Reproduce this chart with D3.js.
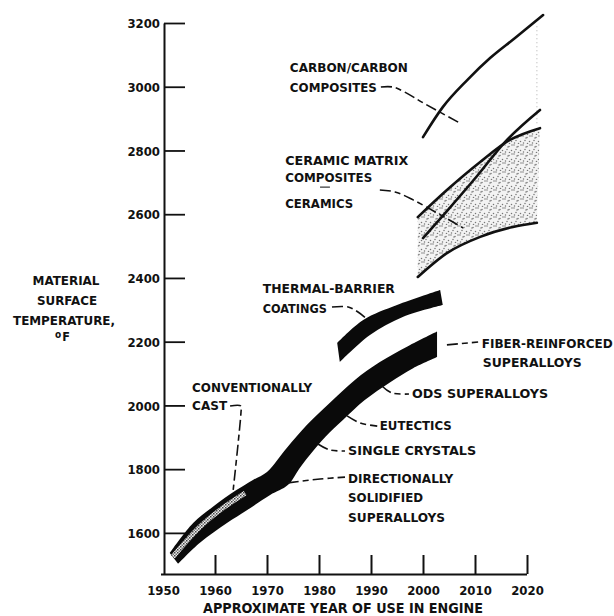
<!DOCTYPE html>
<html><head><meta charset="utf-8">
<script src="https://cdn.jsdelivr.net/npm/d3@7"></script>
<style>
html,body{margin:0;padding:0;background:#fff;}
text{font-family:"DejaVu Sans Condensed","DejaVu Sans",sans-serif;fill:#111;}
</style></head>
<body><svg id="c" width="614" height="616"></svg>
<script>
// ---------- DATA ----------
const xTicks = [1950, 1960, 1970, 1980, 1990, 2000, 2010, 2020];
const yTicks = [1600, 1800, 2000, 2200, 2400, 2600, 2800, 3000, 3200];

// superalloy band (conventionally cast -> fiber-reinforced)  [year, °F]
const superUpper = [[1951.3,1537],[1955.8,1631],[1959.6,1682],[1964.2,1735],[1967.3,1766],[1970.0,1791],
  [1973.8,1866],[1977.7,1939],[1982.1,2008],[1986.9,2080],[1991.7,2136],[1997.1,2186],[2002.7,2232]];
const superLower = [[1952.9,1503],[1957.1,1569],[1962.3,1631],[1966.2,1672],[1970.6,1719],[1974.0,1750],
  [1976.3,1804],[1978.7,1854],[1981.2,1901],[1984.6,1954],[1988.8,2017],[1993.7,2073],[1998.1,2117],[2002.7,2152]];
// conventionally cast (light strip inside band)
const castStrip = [[1951.9,1525],[1957.1,1619],[1961.5,1678],[1965.8,1725]];
// thermal-barrier coatings band
const tbcUpper = [[1983.5,2196],[1988.5,2268],[1995.0,2315],[2003.3,2362]];
const tbcLower = [[1984.0,2136],[1989.8,2221],[1996.2,2278],[2003.8,2315]];
// carbon/carbon composites
const carbonLine = [[2000.0,2842],[2003.8,2936],[2008.5,3021],[2012.9,3090],[2017.7,3153],[2023.1,3225]];
// ceramic matrix composites / ceramics
const ceramicA = [[1999.0,2591],[2004.6,2676],[2011.0,2764],[2016.7,2833],[2022.5,2870]];
const ceramicB = [[2000.0,2525],[2004.6,2610],[2010.4,2720],[2015.8,2827],[2022.5,2927]];
const ceramicLow = [[1999.0,2403],[2004.6,2478],[2011.0,2529],[2017.3,2560],[2021.9,2573]];

// labels: [text, year, °F (baseline), width px]
const labels = [
  ["CARBON/CARBON",1974.4,3046,118],["COMPOSITES",1974.4,2984,87],
  ["CERAMIC MATRIX",1973.5,2754,123],["COMPOSITES",1973.5,2701,87],["CERAMICS",1973.5,2620,68],
  ["THERMAL-BARRIER",1969.2,2353,132],["COATINGS",1969.2,2290,64],
  ["FIBER-REINFORCED",2011.3,2180,131],["SUPERALLOYS",2011.5,2121,99],
  ["CONVENTIONALLY",1955.6,2042,120],["CAST",1955.6,1986,35],
  ["ODS SUPERALLOYS",1997.9,2023,136],["EUTECTICS",1991.7,1923,72],
  ["SINGLE CRYSTALS",1985.6,1844,128],["DIRECTIONALLY",1985.6,1757,105],
  ["SOLIDIFIED",1985.6,1697,75],["SUPERALLOYS",1985.6,1634,97]
];
// leader lines
const leaders = [
  [[1991.9,2999],[1994.2,2999],[1996.5,2983],[2000.4,2946],[2007.1,2886]],
  [[1991.7,2676],[1994.6,2670],[1998.1,2645],[2007.7,2557]],
  [[1982.5,2309],[1985.6,2309],[1987.5,2293],[1989.0,2274]],
  [[2004.6,2190],[2010.6,2199]],
  [[1992.1,2061],[1994.0,2039],[1997.3,2036]],
  [[1985.4,1967],[1987.9,1945],[1991.2,1935]],
  [[1979.8,1879],[1982.1,1860],[1985.0,1857]],
  [[1974.0,1757],[1980.2,1769],[1985.0,1775]],
  [[1962.9,1998],[1965.0,1998],[1965.0,1979],[1963.5,1735]]
];
const smallDash = [[1980.2,2685],[1982.1,2685]];

// ---------- CHART ----------
const svg = d3.select("#c");
const x = d3.scaleLinear().domain([1950, 2020]).range([163, 527]);
const y = d3.scaleLinear().domain([1471, 3200]).range([574, 23]);

const defs = svg.append("defs");
const stip = defs.append("pattern").attr("id","stip").attr("width",9).attr("height",9).attr("patternUnits","userSpaceOnUse");
stip.append("rect").attr("width",9).attr("height",9).attr("fill","#f3f3f3");
[[1,1],[5,2.5],[3,5.5],[7.5,6.5],[8,1],[1.5,8],[5.5,8.5],[4,3]].forEach(p=>
  stip.append("circle").attr("cx",p[0]).attr("cy",p[1]).attr("r",0.75).attr("fill","#777"));
const chk = defs.append("pattern").attr("id","chk").attr("width",3).attr("height",3).attr("patternUnits","userSpaceOnUse");
chk.append("rect").attr("width",3).attr("height",3).attr("fill","#eee");
chk.append("rect").attr("width",1.5).attr("height",1.5).attr("fill","#444");
chk.append("rect").attr("x",1.5).attr("y",1.5).attr("width",1.5).attr("height",1.5).attr("fill","#777");

const line = d3.line().x(d=>x(d[0])).y(d=>y(d[1])).curve(d3.curveCatmullRom.alpha(0.5));
const smooth = d3.line().x(d=>x(d[0])).y(d=>y(d[1])).curve(d3.curveMonotoneX);
function band(up, lo){
  return line(up) + line(lo.slice().reverse()).replace(/^M/,"L") + "Z";
}

// ceramics stipple region
svg.append("path").attr("d", band(ceramicLow, ceramicA)).attr("fill","url(#stip)");
// faint dotted boundary on right above
svg.append("line").attr("x1",x(2021.9)).attr("x2",x(2021.9)).attr("y1",y(3190)).attr("y2",y(2880))
  .attr("stroke","#bbb").attr("stroke-width",1.2).attr("stroke-dasharray","1,3");

// axes
const xAxis = d3.axisBottom(x).tickValues(xTicks).tickFormat(d3.format("d")).tickSizeInner(-19).tickSizeOuter(0).tickPadding(12);
const gx = svg.append("g").attr("transform","translate(0,574)").call(xAxis);
gx.select(".domain").attr("d",`M161,0.5H${x(2020)}`).attr("stroke","#111").attr("stroke-width",2);
gx.selectAll(".tick line").attr("stroke","#111").attr("stroke-width",2).filter(d=>d===1950).remove();
gx.selectAll(".tick text").attr("font-size",13).attr("font-weight","bold").attr("fill","#111");

const yAxis = d3.axisLeft(y).tickValues(yTicks).tickFormat(d3.format("d")).tickSizeInner(-21).tickSizeOuter(0).tickPadding(4);
const gy = svg.append("g").attr("transform","translate(164,0)").call(yAxis);
gy.select(".domain").attr("stroke","#111").attr("stroke-width",2);
gy.selectAll(".tick line").attr("stroke","#111").attr("stroke-width",1.8);
gy.selectAll(".tick text").attr("font-size",13).attr("font-weight","bold").attr("fill","#111").attr("dy","0.36em");

// bands
svg.append("path").attr("d", band(superUpper, superLower)).attr("fill","#0a0a0a");
svg.append("path").attr("d", line(castStrip)).attr("fill","none").attr("stroke","url(#chk)").attr("stroke-width",5);
svg.append("path").attr("d", band(tbcUpper, tbcLower)).attr("fill","#0a0a0a");

// lines
[carbonLine, ceramicA, ceramicB, ceramicLow].forEach(l=>
  svg.append("path").attr("d", smooth(l)).attr("fill","none").attr("stroke","#111").attr("stroke-width",2.6).attr("stroke-linecap","round"));

// leaders
const lline = d3.line().x(d=>x(d[0])).y(d=>y(d[1])).curve(d3.curveCatmullRom);
leaders.forEach(l=>
  svg.append("path").attr("d", lline(l)).attr("fill","none").attr("stroke","#111").attr("stroke-width",1.6)
    .attr("stroke-dasharray","11,4,6,4"));
svg.append("path").attr("d", d3.line().x(d=>x(d[0])).y(d=>y(d[1]))(smallDash)).attr("stroke","#333").attr("stroke-width",1.2);

// labels
svg.selectAll("text.lab").data(labels).join("text").attr("class","lab")
  .attr("x",d=>x(d[1])).attr("y",d=>y(d[2])).attr("font-size",13).attr("font-weight","bold")
  .attr("textLength",d=>d[3]).attr("lengthAdjust","spacingAndGlyphs").text(d=>d[0]);

// axis titles
svg.append("text").attr("x",343).attr("y",613).attr("text-anchor","middle").attr("font-size",13.5)
  .attr("font-weight","bold").attr("textLength",280).attr("lengthAdjust","spacingAndGlyphs").text("APPROXIMATE YEAR OF USE IN ENGINE");
const yt = [["MATERIAL",66,285,67],["SURFACE",67,305,60],["TEMPERATURE,",64,325,102]];
yt.forEach(t=>svg.append("text").attr("x",t[1]).attr("y",t[2]).attr("text-anchor","middle").attr("font-size",12.5)
  .attr("font-weight","bold").attr("textLength",t[3]).attr("lengthAdjust","spacingAndGlyphs").text(t[0]));
const degF = svg.append("text").attr("x",55).attr("y",341).attr("font-size",12.5).attr("font-weight","bold");
degF.append("tspan").attr("font-size",10).attr("dy",-3).text("o");
degF.append("tspan").attr("dy",3).attr("dx",1).text("F");
</script></body></html>
